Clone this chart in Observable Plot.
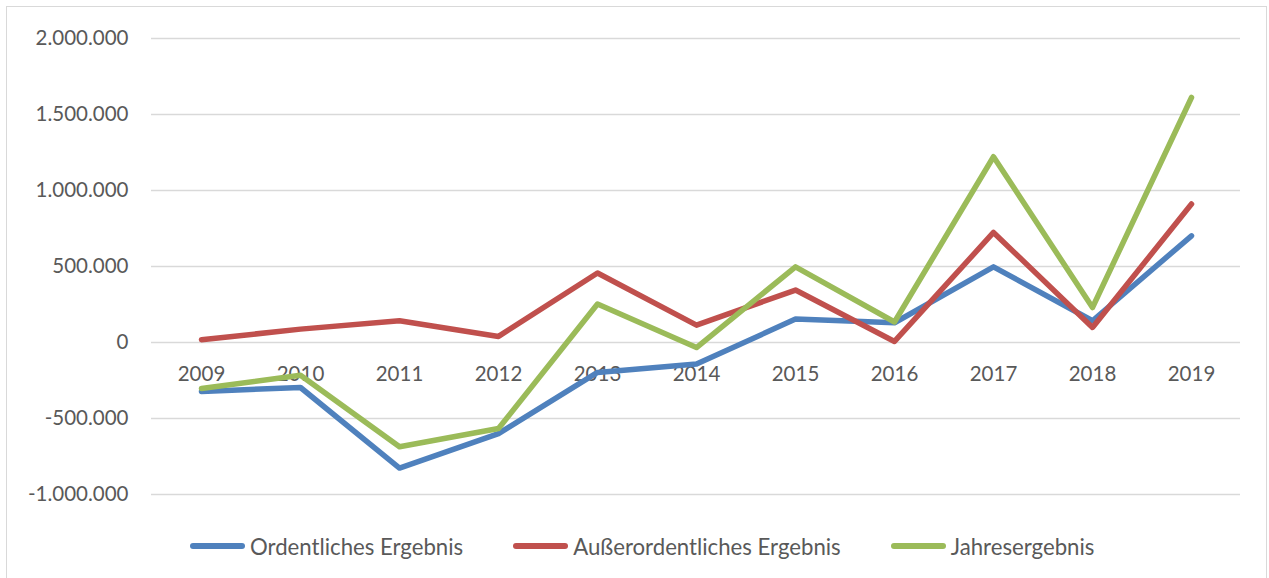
<!DOCTYPE html>
<html>
<head>
<meta charset="utf-8">
<script src="https://cdn.jsdelivr.net/npm/d3@7"></script>
<script src="https://cdn.jsdelivr.net/npm/@observablehq/plot@0.6"></script>
<style>
  html, body { margin: 0; padding: 0; background: #fff; width: 1269px; height: 578px; overflow: hidden; }
  body { position: relative; font-family: Lato, "Open Sans", sans-serif; color: #595959; }
  #frame { position: absolute; left: 6px; top: 6px; width: 1261px; height: 620px; border: 1.5px solid #d9d9d9; box-sizing: border-box; }
  #chart { position: absolute; left: 0; top: 0; }
  #legend { position: absolute; left: 190px; top: 531px; height: 30px; display: flex; align-items: center; gap: 50px; font-size: 22.2px; color: #595959; }
  .item { display: flex; align-items: center; }
  .sw { width: 55px; height: 5.5px; border-radius: 3px; margin-right: 5px; }
</style>
</head>
<body>
<div id="frame"></div>
<div id="chart"></div>
<div id="legend"></div>
<script>
const years = ["2009","2010","2011","2012","2013","2014","2015","2016","2017","2018","2019"];
const ordentlich = [-322000, -296000, -826000, -599000, -197000, -142000, 154000, 130000, 498000, 143000, 702000];
const ausserordentlich = [18000, 88000, 143000, 40000, 457000, 114000, 345000, 7000, 724000, 99000, 911000];
const jahres = [-303000, -215000, -686000, -566000, 253000, -33000, 498000, 135000, 1222000, 230000, 1612000];
const seriesNames = ["Ordentliches Ergebnis", "Außerordentliches Ergebnis", "Jahresergebnis"];
const seriesColors = ["#4f81bd", "#c0504d", "#9bbb59"];
const yTicks = [-1000000, -500000, 0, 500000, 1000000, 1500000, 2000000];

const seriesValues = [ordentlich, ausserordentlich, jahres];
const data = [];
seriesNames.forEach((name, i) => {
  years.forEach((y, j) => data.push({series: name, year: y, value: seriesValues[i][j]}));
});

const de = d3.formatLocale({decimal: ",", thousands: ".", grouping: [3], currency: ["", " €"], minus: "-"});
const fmt = de.format(",d");

const plot = Plot.plot({
  width: 1269,
  height: 520,
  marginLeft: 151,
  marginRight: 29,
  marginTop: 38,
  marginBottom: 26,
  style: {fontFamily: "Lato, 'Open Sans', sans-serif", fontSize: "20.5px", color: "#595959", background: "transparent"},
  x: {type: "point", domain: years, padding: 0.5, axis: null},
  y: {domain: [-1000000, 2000000], ticks: yTicks, tickFormat: fmt, tickSize: 0, tickPadding: 23, label: null},
  color: {domain: seriesNames, range: seriesColors},
  marks: [
    Plot.ruleY(yTicks, {stroke: "#d9d9d9", strokeWidth: 1.5}),
    Plot.text(years, {x: d => d, y: () => 0, dy: 31.5, text: d => d, fill: "#595959", fontSize: 20.5, textAnchor: "middle", lineAnchor: "middle"}),
    Plot.line(data, {x: "year", y: "value", z: "series", stroke: "series", strokeWidth: 5.5, strokeLinecap: "round", strokeLinejoin: "round"})
  ]
});
document.getElementById("chart").appendChild(plot);

const legend = document.getElementById("legend");
seriesNames.forEach((name, i) => {
  const item = document.createElement("div");
  item.className = "item";
  const sw = document.createElement("div");
  sw.className = "sw";
  sw.style.background = seriesColors[i];
  const t = document.createElement("span");
  t.textContent = name;
  item.appendChild(sw);
  item.appendChild(t);
  legend.appendChild(item);
});
</script>
</body>
</html>
